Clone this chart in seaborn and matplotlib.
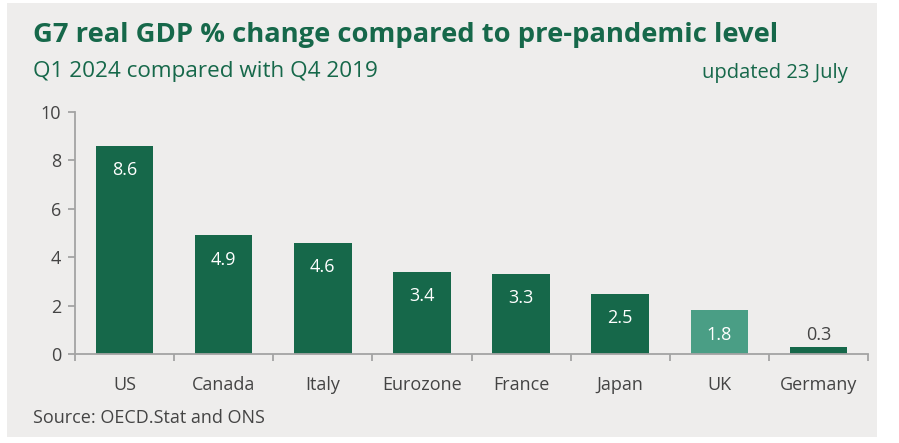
import matplotlib.pyplot as plt
import matplotlib.patches as mpatches
import pandas as pd
import seaborn as sns

countries = ['US', 'Canada', 'Italy', 'Eurozone', 'France', 'Japan', 'UK', 'Germany']
gdp_change = [8.6, 4.9, 4.6, 3.4, 3.3, 2.5, 1.8, 0.3]

dark_green = '#16684a'
light_green = '#4a9e85'
bar_colors = [light_green if c == 'UK' else dark_green for c in countries]

df = pd.DataFrame({'country': countries, 'change': gdp_change})

sns.set_style('white')
plt.rcParams['font.family'] = ['Open Sans', 'DejaVu Sans']

fig = plt.figure(figsize=(8.99, 4.43), dpi=100)
fig.patch.set_facecolor('white')
# grey panel
fig.patches.append(mpatches.Rectangle((7 / 899, 6 / 443), 870 / 899, 434 / 443,
                                      transform=fig.transFigure, facecolor='#eeedec',
                                      edgecolor='none', zorder=-10))

ax = fig.add_axes([75 / 899, 1 - 354 / 443, 793 / 899, 242 / 443])
ax.set_zorder(5)
ax.set_facecolor('none')
sns.barplot(data=df, x='country', y='change', hue='country', palette=bar_colors,
            width=0.58, legend=False, ax=ax, saturation=1, linewidth=0)

ax.set_ylim(0, 10)
ax.set_xlim(-0.5, len(countries) - 0.5)
ax.set_yticks([0, 2, 4, 6, 8, 10])
ax.set_xlabel('')
ax.set_ylabel('')
for s in ['top', 'right']:
    ax.spines[s].set_visible(False)
for s in ['left', 'bottom']:
    ax.spines[s].set_color('#a3a3a3')
    ax.spines[s].set_linewidth(1.3)

# ticks between categories on x
ax.set_xticks([i - 0.5 for i in range(len(countries) + 1)], minor=True)
ax.tick_params(axis='x', which='major', bottom=False, length=0, pad=16, labelsize=13,
               labelcolor='#444444')
ax.tick_params(axis='x', which='minor', bottom=True, length=5, width=1.3, color='#a3a3a3',
               direction='out')
ax.tick_params(axis='y', left=True, length=5, width=1.3, color='#a3a3a3', direction='out',
               labelsize=13, labelcolor='#444444', pad=5)

for i, v in enumerate(gdp_change):
    if v > 1:
        ax.text(i, v - 1.0, f'{v:.1f}', ha='center', va='center', color='white', fontsize=13)
    else:
        ax.text(i, v + 0.5, f'{v:.1f}', ha='center', va='center', color='#444444', fontsize=13)

fig.text(33 / 899, 1 - 35 / 443, 'G7 real GDP % change compared to pre-pandemic level',
         fontsize=19.7, fontweight='bold', color=dark_green, va='center')
fig.text(33 / 899, 1 - 72 / 443, 'Q1 2024 compared with Q4 2019',
         fontsize=16.2, color=dark_green, va='center')
fig.text(848 / 899, 1 - 73 / 443, 'updated 23 July',
         fontsize=14.5, color=dark_green, va='center', ha='right')
fig.text(33 / 899, 1 - 418 / 443, 'Source: OECD.Stat and ONS',
         fontsize=13, color='#444444', va='center')

plt.savefig('out.png', dpi=100)
